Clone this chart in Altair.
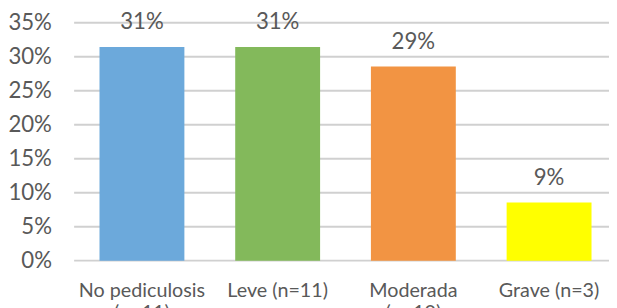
import altair as alt
import pandas as pd

categories = ["No pediculosis|(n=11)", "Leve (n=11)", "Moderada|(n=10)", "Grave (n=3)"]
values = [11/35, 11/35, 10/35, 3/35]
colors = ["#6CA9DB", "#83B95B", "#F29443", "#FFFF00"]
y_ticks = [0, 0.05, 0.10, 0.15, 0.20, 0.25, 0.30, 0.35]

df = pd.DataFrame({"cat": categories, "val": values, "color": colors})
grid_df = pd.DataFrame({"val": y_ticks})

FONT = "Lato"
GREY = "#595959"

y_enc = alt.Y("val:Q", title=None,
              scale=alt.Scale(domain=[0, 0.35], nice=False),
              axis=alt.Axis(values=y_ticks, format=".0%", domain=False, ticks=False,
                            grid=False, labelOverlap=False,
                            labelPadding=23,
                            labelFont=FONT, labelFontSize=22.5, labelColor=GREY))

grid = alt.Chart(grid_df).mark_rule(color="#D0D0D0", strokeWidth=2).encode(
    y=y_enc, x=alt.value(0), x2=alt.value(542)
)

base = alt.Chart(df).encode(
    x=alt.X("cat:N", sort=categories, title=None,
            scale=alt.Scale(paddingInner=0.3745, paddingOuter=0.187, range=[0, 550]),
            axis=alt.Axis(labelAngle=0, domain=False, ticks=False, labelPadding=20,
                          grid=False,
                          labelFont=FONT, labelFontSize=20, labelColor=GREY,
                          labelLineHeight=23, labelLimit=300,
                          labelExpr="split(datum.label, '|')")),
    y=y_enc,
)

bars = base.mark_bar().encode(color=alt.Color("color:N", scale=None))
labels = base.mark_text(
    font=FONT, fontSize=22.5, color=GREY, baseline="alphabetic", dy=-18
).encode(text=alt.Text("val:Q", format=".0%"))

chart = alt.layer(grid, bars, labels).properties(
    width=542, height=241,
    autosize=alt.AutoSizeParams(type="none"),
    padding={"left": 67, "top": 13, "right": 0, "bottom": 46},
).configure_view(stroke=None)

chart.save("out.html", embed_options={"renderer": "svg", "actions": False})
